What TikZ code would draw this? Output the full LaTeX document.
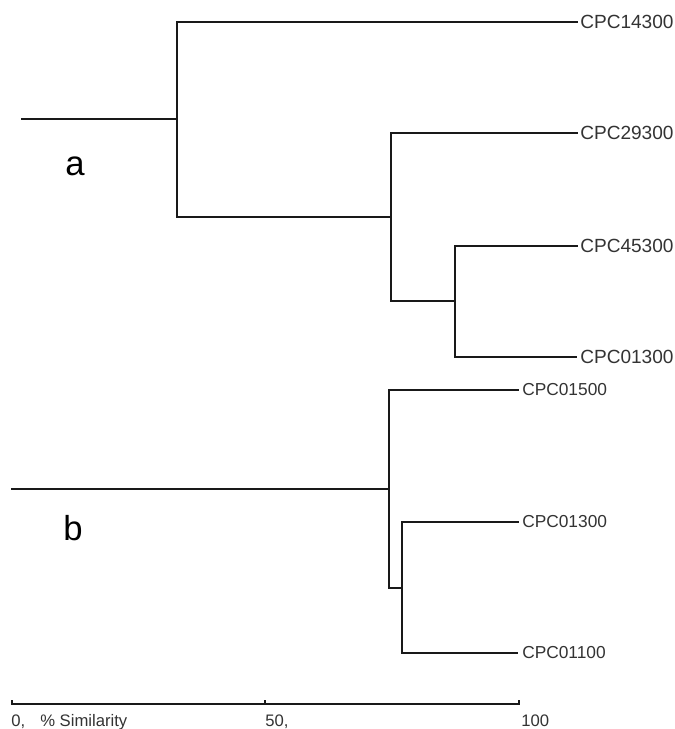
\documentclass[tikz,border=0pt]{standalone}
\usepackage{fontspec}
\setmainfont{Liberation Sans}
\begin{document}
\begin{tikzpicture}[x=0.75pt,y=-0.75pt,
  branch/.style={line width=1.5pt,black!90,line cap=rect},
  leafA/.style={anchor=west,inner sep=0pt,text=black!80,font=\fontsize{14.3}{16}\selectfont},
  leafB/.style={anchor=west,inner sep=0pt,text=black!80,font=\fontsize{13}{15}\selectfont},
  panel/.style={inner sep=0pt,font=\fontsize{26}{30}\selectfont},
  scaletxt/.style={anchor=base west,inner sep=0pt,text=black!80,font=\fontsize{12.5}{14}\selectfont}]
\useasboundingbox (0,0) rectangle (675,729);

% ---- tree a ----
\coordinate (ar) at (22,119);
\coordinate (a1) at (177,119);
\coordinate (a1t) at (177,22);
\coordinate (a1b) at (177,217);
\coordinate (a2) at (391,217);
\coordinate (a2t) at (391,133);
\coordinate (a2b) at (391,301);
\coordinate (a3) at (455,301);
\coordinate (a3t) at (455,246);
\coordinate (a3b) at (455,357);
\node[leafA] (l1) at (580,22) {CPC14300};
\node[leafA] (l2) at (580,133) {CPC29300};
\node[leafA] (l3) at (580,246) {CPC45300};
\node[leafA] (l4) at (580,357) {CPC01300};
\draw[branch] (l1.west) ++(-3,0) -- (a1t) -- (a1b) -- (a2);
\draw[branch] (ar) -- (a1);
\draw[branch] (l2.west) ++(-3,0) -- (a2t) -- (a2b) -- (a3);
\draw[branch] (l3.west) ++(-3,0) -- (a3t) -- (a3b) -- ([xshift=-3]l4.west);
\node[panel] (pa) at (75,166) {a};

% ---- tree b ----
\coordinate (br) at (12,489);
\coordinate (b1) at (389,489);
\coordinate (b1t) at (389,390);
\coordinate (b1b) at (389,588);
\coordinate (b2) at (402,588);
\coordinate (b2t) at (402,522);
\coordinate (b2b) at (402,653);
\node[leafB] (m1) at (522,390) {CPC01500};
\node[leafB] (m2) at (522,522) {CPC01300};
\node[leafB] (m3) at (522,653) {CPC01100};
\draw[branch] (br) -- (b1);
\draw[branch] (m1.west) ++(-4,0) -- (b1t) -- (b1b) -- (b2);
\draw[branch] (m2.west) ++(-4,0) -- (b2t) -- (b2b) -- ([xshift=-4]m3.west);
\node[panel] (pb) at (73,528) {b};

% ---- similarity scale ----
\coordinate (s0) at (12,704);
\coordinate (s50) at (265,704);
\coordinate (s100) at (519,704);
\draw[line width=2.2pt,black!90] ([yshift=3]s0) -- (s0) -- (s100) -- ([yshift=3]s100);
\draw[line width=2.2pt,black!90] (s50) -- ([yshift=3]s50);
\node[scaletxt] (t0) at (11,726) {0,};
\node[scaletxt] (tl) at (40,726) {\% Similarity};
\node[scaletxt] (t50) at (265,726) {50,};
\node[scaletxt] (t100) at (521,726) {100};
\end{tikzpicture}
\end{document}
